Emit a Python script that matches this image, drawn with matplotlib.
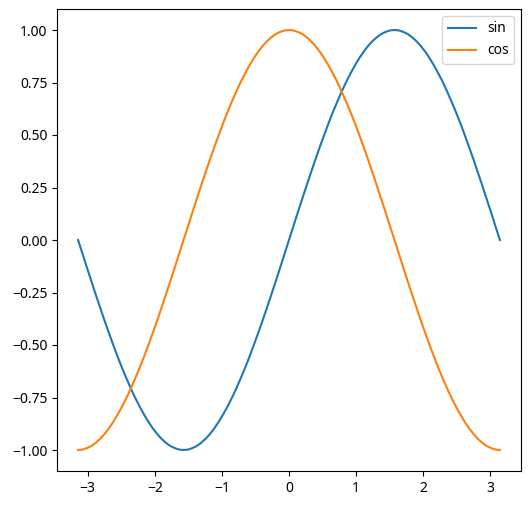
import matplotlib
matplotlib.use("Agg")
from matplotlib import pyplot as plt

plt.rcParams['font.family'] = ['Noto Sans', 'DejaVu Sans']
plt.rcParams['axes.unicode_minus'] = True

# sample points (step of pi/48)
x_vals = [-3.142, -3.076, -3.011, -2.945, -2.880, -2.814, -2.749, -2.683,
          -2.618, -2.553, -2.487, -2.422, -2.356, -2.291, -2.225, -2.160,
          -2.094, -2.029, -1.963, -1.898, -1.833, -1.767, -1.702, -1.636,
          -1.571, -1.505, -1.440, -1.374, -1.309, -1.244, -1.178, -1.113,
          -1.047, -0.982, -0.916, -0.851, -0.785, -0.720, -0.654, -0.589,
          -0.524, -0.458, -0.393, -0.327, -0.262, -0.196, -0.131, -0.065,
          0.000,
          0.065, 0.131, 0.196, 0.262, 0.327, 0.393, 0.458, 0.524,
          0.589, 0.654, 0.720, 0.785, 0.851, 0.916, 0.982, 1.047,
          1.113, 1.178, 1.244, 1.309, 1.374, 1.440, 1.505, 1.571,
          1.636, 1.702, 1.767, 1.833, 1.898, 1.963, 2.029, 2.094,
          2.160, 2.225, 2.291, 2.356, 2.422, 2.487, 2.553, 2.618,
          2.683, 2.749, 2.814, 2.880, 2.945, 3.011, 3.076, 3.142]

sin_vals = [0.000, -0.065, -0.131, -0.195, -0.259, -0.321, -0.383, -0.442,
            -0.500, -0.556, -0.609, -0.659, -0.707, -0.752, -0.793, -0.831,
            -0.866, -0.897, -0.924, -0.947, -0.966, -0.981, -0.991, -0.998,
            -1.000, -0.998, -0.991, -0.981, -0.966, -0.947, -0.924, -0.897,
            -0.866, -0.831, -0.793, -0.752, -0.707, -0.659, -0.609, -0.556,
            -0.500, -0.442, -0.383, -0.321, -0.259, -0.195, -0.131, -0.065,
            0.000,
            0.065, 0.131, 0.195, 0.259, 0.321, 0.383, 0.442, 0.500,
            0.556, 0.609, 0.659, 0.707, 0.752, 0.793, 0.831, 0.866,
            0.897, 0.924, 0.947, 0.966, 0.981, 0.991, 0.998, 1.000,
            0.998, 0.991, 0.981, 0.966, 0.947, 0.924, 0.897, 0.866,
            0.831, 0.793, 0.752, 0.707, 0.659, 0.609, 0.556, 0.500,
            0.442, 0.383, 0.321, 0.259, 0.195, 0.131, 0.065, 0.000]

cos_vals = [-1.000, -0.998, -0.991, -0.981, -0.966, -0.947, -0.924, -0.897,
            -0.866, -0.831, -0.793, -0.752, -0.707, -0.659, -0.609, -0.556,
            -0.500, -0.442, -0.383, -0.321, -0.259, -0.195, -0.131, -0.065,
            0.000, 0.065, 0.131, 0.195, 0.259, 0.321, 0.383, 0.442,
            0.500, 0.556, 0.609, 0.659, 0.707, 0.752, 0.793, 0.831,
            0.866, 0.897, 0.924, 0.947, 0.966, 0.981, 0.991, 0.998,
            1.000,
            0.998, 0.991, 0.981, 0.966, 0.947, 0.924, 0.897, 0.866,
            0.831, 0.793, 0.752, 0.707, 0.659, 0.609, 0.556, 0.500,
            0.442, 0.383, 0.321, 0.259, 0.195, 0.131, 0.065, 0.000,
            -0.065, -0.131, -0.195, -0.259, -0.321, -0.383, -0.442, -0.500,
            -0.556, -0.609, -0.659, -0.707, -0.752, -0.793, -0.831, -0.866,
            -0.897, -0.924, -0.947, -0.966, -0.981, -0.991, -0.998, -1.000]

fig = plt.figure(figsize=(5.31, 5.05), dpi=100)
ax = fig.add_axes([57 / 531, 34 / 505, 464 / 531, 462 / 505])

ax.plot(x_vals, sin_vals, label='sin')
ax.plot(x_vals, cos_vals, label='cos')
ax.legend(loc='upper right')

fig.savefig('out.png', dpi=100)
